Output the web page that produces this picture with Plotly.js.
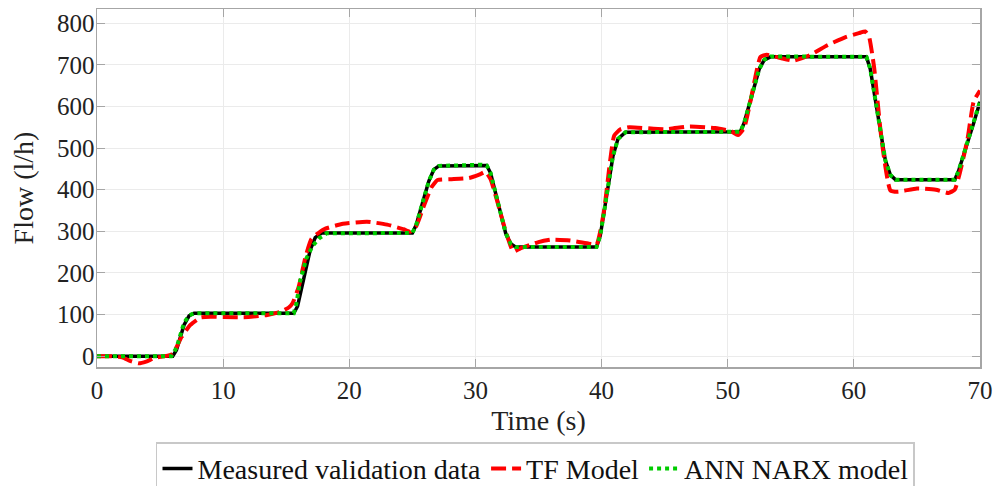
<!DOCTYPE html>
<html>
<head>
<meta charset="utf-8">
<script src="https://cdn.plot.ly/plotly-3.0.1.min.js"></script>
<style>
html,body{margin:0;padding:0;background:#fff;}
#chart{width:1006px;height:486px;}
</style>
</head>
<body>
<div id="chart"></div>
<script>
// Measured validation data
var timeMeasured = [0, 6.0, 6.3, 6.9, 7.3, 7.7, 15.6, 15.9, 16.9, 17.3, 17.8, 25.0, 25.3, 26.3, 26.7, 27.1, 30.9, 31.2, 32.4, 32.8, 33.2, 39.6, 39.9, 40.9, 41.3, 41.9, 51.0, 51.3, 52.5, 52.9, 53.4, 61.0, 61.3, 62.5, 62.9, 63.3, 68.0, 68.3, 69.5, 70.0];
var flowMeasured = [0, 0, 15, 75, 97, 103, 103, 120, 255, 285, 296, 296, 315, 420, 448, 457, 458, 440, 295, 270, 262, 262, 290, 480, 522, 538, 539, 560, 690, 712, 719, 719, 690, 470, 435, 424, 424, 445, 560, 611];

// TF Model
var timeTF = [0, 1, 2, 2.6, 3.3, 3.9, 4.6, 5.4, 6.0, 6.7, 7.4, 8.2, 9, 10, 12, 13.5, 14.5, 15.2, 15.5, 16.0, 16.5, 17.0, 18.0, 19.5, 21.4, 23, 24.3, 24.8, 25.3, 25.9, 26.5, 27.0, 28, 29.5, 30.3, 30.8, 31.2, 31.7, 32.4, 33.0, 33.5, 35, 36, 37.5, 39.0, 39.6, 40.2, 40.6, 41.0, 41.5, 42.2, 45, 47, 49, 50.3, 50.8, 51.3, 51.8, 52.6, 53.1, 54.2, 55.2, 56.5, 57.9, 59.4, 60.4, 60.9, 61.2, 61.6, 62.2, 62.9, 63.5, 65, 66.5, 67.5, 68.0, 68.4, 69.0, 69.5, 70];
var flowTF = [0, 0, -3, -11, -17, -13, -4, 0, 6, 46, 75, 93, 95, 94, 94, 99, 106, 117, 127, 168, 235, 282, 305, 318, 323, 316, 305, 299, 312, 360, 405, 423, 425, 428, 436, 443, 425, 375, 300, 251, 258, 274, 280, 278, 270, 268, 350, 450, 530, 545, 550, 545, 552, 548, 540, 531, 548, 612, 719, 724, 716, 710, 723, 747, 767, 776, 780, 768, 695, 519, 398, 395, 403, 400, 392, 400, 440, 520, 612, 638];

// ANN NARX model
var timeANN = [0, 5.9, 6.3, 6.9, 7.3, 7.7, 15.6, 15.8, 16.1, 16.6, 17.1, 17.6, 18.2, 25.0, 25.3, 26.3, 26.7, 27.1, 30.5, 30.9, 31.2, 32.4, 32.8, 33.2, 39.6, 39.9, 40.9, 41.3, 41.9, 51.0, 51.3, 52.5, 52.9, 53.4, 61.0, 61.3, 62.5, 62.9, 63.3, 68.0, 68.3, 69.5, 70.0];
var flowANN = [0, 0, 20, 80, 98, 103, 103, 125, 180, 235, 265, 283, 295, 296, 315, 420, 448, 457, 460, 458, 440, 295, 270, 262, 262, 290, 480, 522, 538, 539, 560, 690, 712, 720, 719, 690, 470, 435, 424, 424, 445, 560, 612];

var seriesNames = ['Measured validation data', 'TF Model', 'ANN NARX model'];
var xTicks = [0, 10, 20, 30, 40, 50, 60, 70];
var yTicks = [0, 100, 200, 300, 400, 500, 600, 700, 800];

var FONT = 'Liberation Serif, Times New Roman, serif';

var traces = [
  {x: timeMeasured, y: flowMeasured, name: seriesNames[0], mode: 'lines',
   line: {color: '#000000', width: 3.5}},
  {x: timeTF, y: flowTF, name: seriesNames[1], mode: 'lines',
   line: {color: '#ff0000', width: 4, dash: '15px,6px', shape: 'spline', smoothing: 0.45}},
  {x: timeANN, y: flowANN, name: seriesNames[2], mode: 'lines',
   line: {color: '#00cc00', width: 4, dash: 'dot'}}
];

var axisCommon = {
  showline: true, mirror: 'ticks', linecolor: '#a6a6a6', linewidth: 1.5,
  ticks: 'inside', ticklen: 8, tickwidth: 1, tickcolor: '#a6a6a6',
  showgrid: true, gridcolor: '#ebebeb', gridwidth: 1, zeroline: false,
  tickfont: {family: FONT, size: 25, color: '#222'}
};

var layout = {
  width: 1006, height: 486,
  paper_bgcolor: '#ffffff', plot_bgcolor: '#ffffff',
  margin: {l: 97, r: 26, t: 9, b: 119, autoexpand: false},
  showlegend: true,
  xaxis: Object.assign({}, axisCommon, {
    range: [0, 70], tickvals: xTicks, ticktext: xTicks.map(String),
    title: {text: 'Time (s)', font: {family: FONT, size: 28, color: '#222'}, standoff: 8}
  }),
  yaxis: Object.assign({}, axisCommon, {
    range: [-26, 834], tickvals: yTicks, ticktext: yTicks.map(String),
    ticklabelstandoff: -4,
    title: {text: 'Flow (l/h)', font: {family: FONT, size: 28, color: '#222'}, standoff: 15}
  }),
  legend: {
    orientation: 'h', x: 0.4966, xanchor: 'center', y: -0.21, yanchor: 'top',
    bordercolor: '#c8c8c8', borderwidth: 1.5, bgcolor: '#ffffff',
    font: {family: FONT, size: 28, color: '#111'},
    itemwidth: 30, tracegroupgap: 0
  }
};

Plotly.newPlot('chart', traces, layout, {displayModeBar: false, staticPlot: true});
</script>
</body>
</html>
